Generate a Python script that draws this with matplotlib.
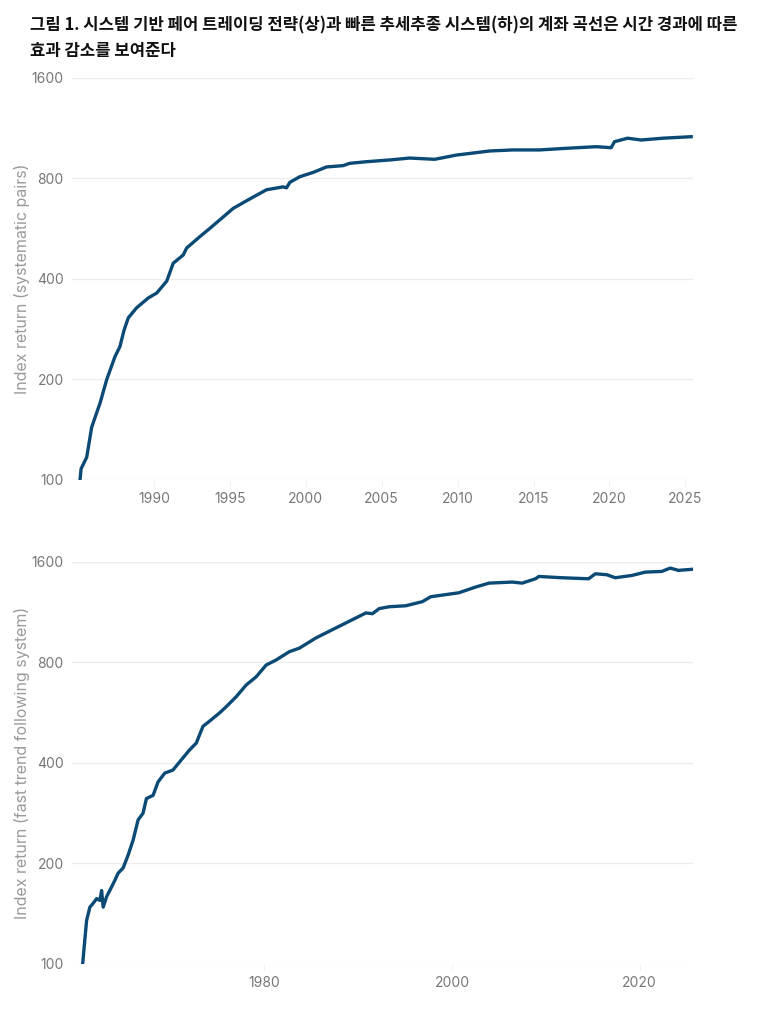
import matplotlib
matplotlib.use("Agg")
from matplotlib import pyplot as plt
from matplotlib.ticker import FixedLocator, NullLocator

plt.rcParams['font.family'] = ['Inter', 'Noto Sans CJK KR', 'DejaVu Sans']

title = "그림 1. 시스템 기반 페어 트레이딩 전략(상)과 빠른 추세추종 시스템(하)의 계좌 곡선은 시간 경과에 따른\n효과 감소를 보여준다"

# systematic pairs equity curve
pairs_year = [1985.13, 1985.20, 1985.57, 1985.90, 1986.45, 1986.89, 1987.43, 1987.76,
              1988.03, 1988.31, 1988.86, 1989.63, 1990.18, 1990.84, 1991.27, 1991.93,
              1992.15, 1993.03, 1993.68, 1995.22, 1996.32, 1997.41, 1998.51, 1998.73,
              1998.95, 1999.61, 2000.48, 2001.36, 2002.45, 2002.89, 2003.99, 2005.53,
              2006.84, 2008.49, 2009.91, 2012.11, 2013.64, 2015.39, 2017.15, 2019.12,
              2020.11, 2020.33, 2021.20, 2022.09, 2023.51, 2025.38]
pairs_value = [100, 108, 117, 144, 170, 200, 234, 251,
               281, 306, 328, 351, 363, 394, 446, 472,
               495, 536, 567, 651, 695, 740, 755, 750,
               779, 810, 834, 866, 874, 888, 898, 909,
               921, 913, 940, 967, 974, 974, 985, 996,
               989, 1031, 1056, 1043, 1056, 1067]

# fast trend following equity curve
trend_year = [1960.61, 1960.74, 1961.03, 1961.38, 1961.73, 1962.10, 1962.45, 1962.63,
              1962.80, 1963.16, 1963.69, 1964.04, 1964.39, 1964.93, 1965.46, 1965.99,
              1966.52, 1967.05, 1967.41, 1968.12, 1968.65, 1969.36, 1970.24, 1971.14,
              1972.02, 1972.73, 1973.44, 1974.15, 1975.21, 1975.93, 1976.99, 1978.05,
              1979.12, 1980.18, 1981.24, 1982.66, 1983.72, 1985.50, 1987.27, 1989.04,
              1990.82, 1991.52, 1992.23, 1993.30, 1995.07, 1996.84, 1997.73, 2000.74,
              2002.52, 2003.94, 2006.41, 2007.48, 2008.90, 2009.26, 2011.73, 2014.57,
              2015.29, 2016.52, 2017.41, 2019.18, 2020.61, 2022.37, 2023.27, 2024.15,
              2025.56]
trend_value = [100, 110, 135, 148, 152, 157, 155, 166,
               148, 159, 170, 178, 187, 194, 212, 235,
               270, 283, 313, 320, 351, 373, 381, 409,
               438, 459, 515, 534, 565, 590, 632, 685,
               725, 786, 814, 862, 883, 948, 1004, 1063,
               1126, 1120, 1160, 1175, 1183, 1217, 1259, 1294,
               1346, 1383, 1393, 1383, 1425, 1448, 1435, 1425,
               1475, 1465, 1435, 1458, 1492, 1499, 1534, 1510,
               1521]

y_ticks = [100, 200, 400, 800, 1600]
pairs_xticks = [1990, 1995, 2000, 2005, 2010, 2015, 2020, 2025]
trend_xticks = [1980, 2000, 2020]

line_color = "#0b4a75"
tick_color = "#777777"

fig = plt.figure(figsize=(7.73, 10.34), dpi=100)
fig.text(0.039, 0.984, title, fontsize=12, fontweight="bold", color="#111111",
         va="top", ha="left", linespacing=1.55, family=['Noto Sans CJK KR', 'DejaVu Sans'])


def style_axis(ax, xticks, ylabel):
    ax.set_yscale("log", base=2)
    ax.set_ylim(100, 1600)
    ax.yaxis.set_major_locator(FixedLocator(y_ticks))
    ax.yaxis.set_minor_locator(NullLocator())
    ax.set_yticklabels([str(t) for t in y_ticks])
    ax.set_xticks(xticks)
    ax.set_xticklabels([str(t) for t in xticks])
    for s in ax.spines.values():
        s.set_visible(False)
    ax.grid(True, axis="y", color="#ececec", linewidth=0.9)
    ax.set_axisbelow(True)
    ax.tick_params(axis="y", length=0, pad=6, labelsize=10, labelcolor=tick_color)
    ax.tick_params(axis="x", length=4, width=0.6, color="#eeeeee", pad=5,
                   labelsize=10, labelcolor=tick_color)
    ax.set_ylabel(ylabel, fontsize=11.5, color="#9a9a9a", labelpad=1)


ax1 = fig.add_axes([0.0931, 0.5358, 0.8034, 0.3888])
ax1.plot(pairs_year, pairs_value, color=line_color, linewidth=2.4, solid_joinstyle="round")
ax1.set_xlim(1984.6, 2025.5)
style_axis(ax1, pairs_xticks, "Index return (systematic pairs)")

ax2 = fig.add_axes([0.0931, 0.0677, 0.8034, 0.3888])
ax2.plot(trend_year, trend_value, color=line_color, linewidth=2.4, solid_joinstyle="round")
ax2.set_xlim(1959.47, 2025.7)
style_axis(ax2, trend_xticks, "Index return (fast trend following system)")

plt.savefig("out.png", dpi=100)
